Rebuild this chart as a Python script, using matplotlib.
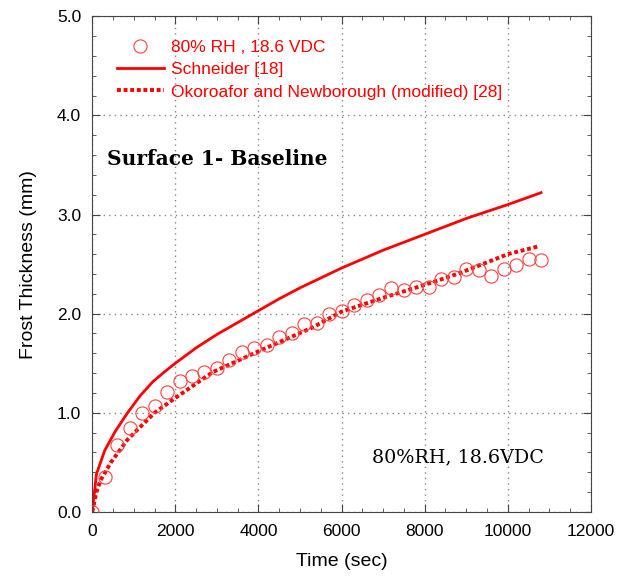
# Frost thickness vs time, Surface 1 baseline.
import numpy as np
import matplotlib.pyplot as plt
from matplotlib.ticker import MultipleLocator

# Experimental data (every 300 s).
exp_t = np.arange(0, 10801, 300)
exp_y = [0.00, 0.35, 0.67, 0.85, 1.00, 1.07, 1.21, 1.32, 1.37, 1.41,
         1.45, 1.53, 1.61, 1.65, 1.68, 1.76, 1.80, 1.90, 1.91, 2.00,
         2.03, 2.09, 2.14, 2.19, 2.26, 2.24, 2.27, 2.27, 2.35, 2.37,
         2.45, 2.44, 2.38, 2.45, 2.49, 2.55, 2.54]

# Schneider [18] correlation.
sch_t = [0, 100, 300, 550, 850, 1150, 1450, 1700, 2000, 2500, 3000, 3500,
         4000, 4500, 5000, 5500, 6000, 6500, 7000, 7500, 8000, 8500, 9000,
         9500, 10000, 10400, 10800]
sch_y = [0.00, 0.38, 0.62, 0.81, 1.00, 1.17, 1.31, 1.40, 1.50, 1.655, 1.79,
         1.91, 2.03, 2.15, 2.26, 2.36, 2.46, 2.55, 2.64, 2.72, 2.80, 2.88,
         2.96, 3.03, 3.10, 3.16, 3.22]

# Okoroafor and Newborough (modified) [28].
oko_t = [0, 100, 200, 450, 850, 1500, 2000, 2900, 4000, 5300, 6000,
         7000, 8000, 8850, 10000, 10750]
oko_y = [0.00, 0.20, 0.32, 0.50, 0.73, 1.00, 1.15, 1.41, 1.62, 1.86, 2.02,
         2.16, 2.29, 2.41, 2.60, 2.68]

plt.rcParams['font.family'] = ['Liberation Sans', 'DejaVu Sans']

fig = plt.figure(figsize=(6.32, 5.81), dpi=100)
ax = fig.add_axes([0.146, 0.119, 0.789, 0.853])

ax.plot(exp_t, exp_y, 'o', mfc='none', mec='#ff4040', ms=9.5, mew=0.8,
        label='80% RH , 18.6 VDC', zorder=3)
ax.plot(sch_t, sch_y, '-', c='red', lw=2, label='Schneider [18]')
ax.plot(oko_t, oko_y, c='red', lw=2.8, ls=(0, (1.0, 0.7)),
        label='Okoroafor and Newborough (modified) [28]')

# Axes and ticks.
ax.set_xlim(0, 12000)
ax.set_ylim(0, 5)
ax.xaxis.set_major_locator(MultipleLocator(2000))
ax.xaxis.set_minor_locator(MultipleLocator(500))
ax.yaxis.set_major_locator(MultipleLocator(1))
ax.yaxis.set_minor_locator(MultipleLocator(0.2))
ax.yaxis.set_major_formatter('{x:.1f}')
ax.tick_params(which='both', direction='in', top=True, right=True,
               labelsize=12.5, color='#444444')
ax.tick_params(which='major', length=6)
ax.tick_params(which='minor', length=3)
ax.tick_params(axis='x', which='major', pad=8.5)
ax.tick_params(axis='y', which='major', pad=8)
for s in ax.spines.values():
    s.set_color('#444444')
ax.grid(True, which='major', ls=(0, (1, 3)), c='#888888', lw=1)

ax.set_xlabel('Time (sec)', fontsize=14, labelpad=10)
ax.set_ylabel('Frost Thickness (mm)', fontsize=14, labelpad=14)

leg = ax.legend(loc='upper left', frameon=False, fontsize=12.5,
                handlelength=2.7, handletextpad=0.4, labelspacing=0.41,
                bbox_to_anchor=(0.018, 0.984))
for t in leg.get_texts():
    t.set_color('red')

ax.text(0.03, 0.70, 'Surface 1- Baseline', transform=ax.transAxes,
        fontsize=14.5, fontweight='bold', family='DejaVu Serif')
ax.text(0.56, 0.10, '80%RH, 18.6VDC', transform=ax.transAxes,
        fontsize=13.8, family='DejaVu Serif')

fig.savefig('out.png', dpi=100)
